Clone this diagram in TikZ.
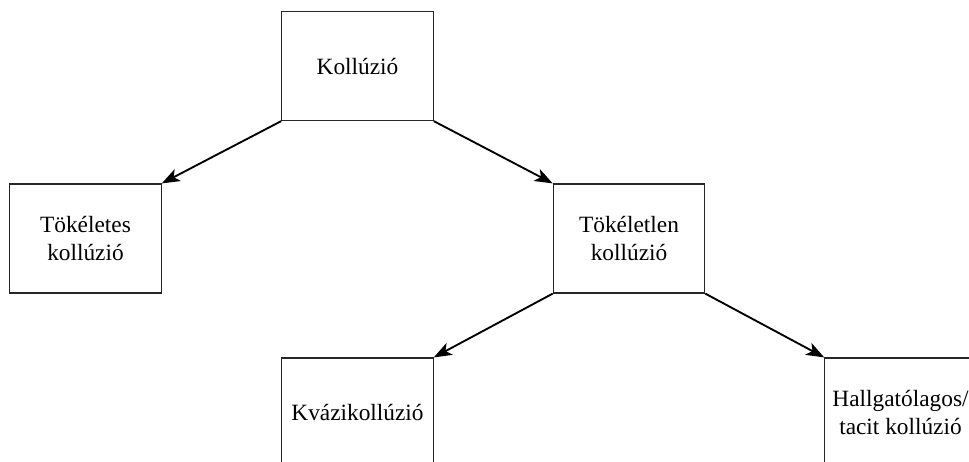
\documentclass[tikz,border=0pt]{standalone}
\usepackage{fontspec}
\setmainfont{Liberation Serif}
\usetikzlibrary{arrows.meta}

\tikzset{
	fogalom/.style={draw=black!85, line width=0.9pt, rectangle, inner sep=0pt,
		minimum width=113.5pt, minimum height=81.75pt, align=center,
		font=\fontsize{17.5}{20.5}\selectfont},
	nyil/.style={line width=1.4pt, -{Stealth[length=13.5pt,width=10pt,inset=3.5pt]}}
}

\begin{document}
\begin{tikzpicture}[x=0.75pt,y=0.75pt,yscale=-1,xscale=1]
	%canvas of 969 x 461, lower boxes are cut at the bottom
	\useasboundingbox (0,0) rectangle (969,461);
	\clip (0,0) rectangle (969,461);
	
	% Boxes
	\node [fogalom] (koll) at (357.5,66) {Kollúzió};
	\node [fogalom] (tok) at (85.5,238.5) {Tökéletes\\kollúzió};
	\node [fogalom] (tokl) at (629,238.5) {Tökéletlen\\kollúzió};
	\node [fogalom] (kvazi) at (357.5,412.5) {Kvázikollúzió};
	\node [fogalom] (hallg) at (900.5,412.5) {Hallgatólagos/\\tacit kollúzió};
	
	% Arrows
	\draw [nyil] (koll.south west) -- (tok.north east);
	\draw [nyil] (koll.south east) -- (tokl.north west);
	\draw [nyil] (tokl.south west) -- (kvazi.north east);
	\draw [nyil] (tokl.south east) -- (hallg.north west);
	
\end{tikzpicture}
\end{document}
